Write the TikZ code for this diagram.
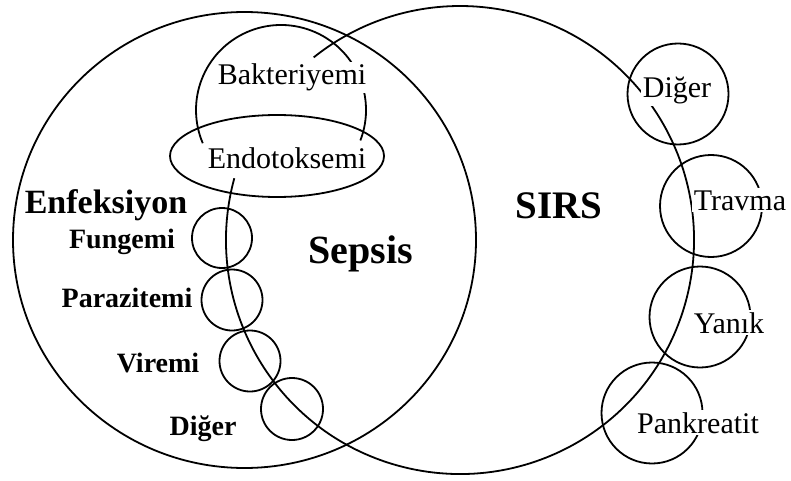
\documentclass[tikz,border=0pt]{standalone}
\usepackage{fontspec}
\setmainfont{Liberation Serif}
\begin{document}
\begin{tikzpicture}[x=1pt, y=-1pt, line width=1.8pt,
	lbl/.style={fill=white, inner sep=2pt, anchor=base,
		font=\fontsize{30}{30}\selectfont},
	blbl/.style={lbl, font=\fontsize{28}{28}\selectfont\bfseries},
	title/.style={lbl, font=\fontsize{39}{39}\selectfont\bfseries}]
	\useasboundingbox (0,0) rectangle (791,481);

	% big sets
	\draw (244.5,240) ellipse[x radius=231.5pt, y radius=228pt];
	\draw (460,240) ++(164.7:234pt) arc[start angle=164.7, end angle=488.7, radius=234pt];

	% bakteriyemi / endotoksemi
	\draw (281,110) ++(-21:85pt) arc[start angle=-21, end angle=203, radius=85pt];
	\draw (277,156) ellipse[x radius=107pt, y radius=41pt];

	% left chain
	\draw (222,238) circle[radius=30pt];
	\draw (232,300) circle[radius=30.5pt];
	\draw (250,361) circle[radius=30.5pt];
	\draw (292,409) circle[radius=31pt];

	% right chain
	\draw (678,94) circle[radius=50.5pt];
	\draw (711,206) circle[radius=51pt];
	\draw (700,317) circle[radius=50.5pt];
	\draw (652,413) circle[radius=50.5pt];

	\node[lbl] (bakt) at (292,85) {Bakteriyemi};
	\node[lbl] (endo) at (287,168) {Endotoksemi};

	\node[title, font=\fontsize{34}{34}\selectfont\bfseries] (enf) at (106,213) {Enfeksiyon};
	\node[title, font=\fontsize{40}{40}\selectfont\bfseries] (sepsis) at (361,263) {Sepsis};
	\node[title] (sirs) at (559,218) {SIRS};

	\node[blbl] (fung) at (122,248) {Fungemi};
	\node[blbl] (para) at (127,307) {Parazitemi};
	\node[blbl] (vir) at (158,372) {Viremi};
	\node[blbl] (dig1) at (203,435) {Diğer};

	\node[lbl] (dig2) at (677,98) {Diğer};
	\node[lbl] (trav) at (740,210) {Travma};
	\node[lbl] (yan) at (729,333) {Yanık};
	\node[lbl] (pank) at (698,433) {Pankreatit};
\end{tikzpicture}
\end{document}
